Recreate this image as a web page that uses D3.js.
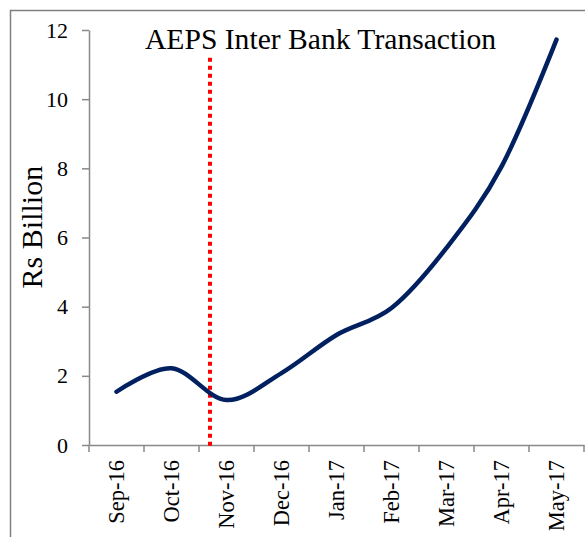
<!DOCTYPE html>
<html>
<head>
<meta charset="utf-8">
<script src="https://cdn.jsdelivr.net/npm/d3@7"></script>
<style>
  body { margin: 0; background: #fff; }
  text { font-family: "Liberation Serif", "DejaVu Serif", serif; fill: #000; }
</style>
</head>
<body>
<svg id="chart"></svg>
<script>
// Data
const months = ["Sep-16", "Oct-16", "Nov-16", "Dec-16", "Jan-17", "Feb-17", "Mar-17", "Apr-17", "May-17"];
const values = [1.54, 2.22, 1.30, 2.08, 3.18, 3.96, 5.70, 8.05, 11.72];
const yTicks = [0, 2, 4, 6, 8, 10, 12];
const markerIndex = 2.2;   // demonetisation marker, in band units from the axis start (between Oct-16 and Nov-16)
const markerTop = 11.2;
const title = "AEPS Inter Bank Transaction";
const yLabel = "Rs Billion";

let width = 585;
let height = 537;
let margin = { top: 30, bottom: 92, left: 89, right: 1 };

let svg = d3.select('#chart')
    .attr('width', width)
    .attr('height', height);

// outer frame (runs off the right and bottom edge)
svg.append('rect')
    .attr('x', 10.5)
    .attr('y', 10.5)
    .attr('width', width + 20)
    .attr('height', height + 20)
    .attr('fill', 'none')
    .attr('stroke', '#7f7f7f')
    .attr('stroke-width', 1.5);

let xScale = d3.scaleBand()
    .domain(months)
    .range([margin.left, width - margin.right]);

let yScale = d3.scaleLinear()
    .domain([0, 12])
    .range([height - margin.bottom, margin.top]);

// y axis
let yAxis = svg.append('g')
    .attr('transform', `translate(${margin.left}, 0)`)
    .call(d3.axisLeft(yScale).tickValues(yTicks).tickSize(7).tickPadding(14).tickSizeOuter(0));

yAxis.select('.domain').attr('stroke', '#898989').attr('stroke-width', 1.5);
yAxis.selectAll('.tick line').attr('stroke', '#898989').attr('stroke-width', 1.5);
yAxis.selectAll('text')
    .style('font-size', '22px')
    .style('font-family', '"Liberation Serif", serif');

// x axis: labels at band centres, ticks at band edges
let xAxis = svg.append('g')
    .attr('transform', `translate(0, ${height - margin.bottom})`)
    .call(d3.axisBottom(xScale).tickSize(0).tickSizeOuter(0));

xAxis.select('.domain').attr('stroke', '#898989').attr('stroke-width', 1.5);
xAxis.selectAll('text')
    .style('font-size', '22.5px')
    .style('font-family', '"Liberation Serif", serif')
    .style('text-anchor', 'end')
    .attr('x', -15)
    .attr('y', 0)
    .attr('dy', '0.33em')
    .attr('transform', 'rotate(-90)');

let edges = months.map(d => xScale(d)).concat([xScale(months[months.length - 1]) + xScale.bandwidth()]);
xAxis.selectAll('.edge')
    .data(edges)
    .enter()
    .append('line')
    .attr('class', 'edge')
    .attr('x1', d => d)
    .attr('x2', d => d)
    .attr('y1', 0)
    .attr('y2', 7)
    .attr('stroke', '#898989')
    .attr('stroke-width', 1.5);

// y axis title
svg.append('text')
    .attr('transform', `translate(42, ${yScale(6.3)}) rotate(-90)`)
    .style('text-anchor', 'middle')
    .style('font-size', '30px')
    .text(yLabel);

// chart title
svg.append('text')
    .attr('x', 145)
    .attr('y', 49)
    .style('font-size', '29.6px')
    .text(title);

// red dotted marker
let xIndex = d3.scaleLinear()
    .domain([0, months.length])
    .range(xScale.range());

svg.append('line')
    .attr('x1', xIndex(markerIndex))
    .attr('x2', xIndex(markerIndex))
    .attr('y1', yScale(markerTop))
    .attr('y2', yScale(0) + 3)
    .attr('stroke', '#ff0000')
    .attr('stroke-width', 4)
    .attr('stroke-dasharray', '4,4');

// smoothed line
let line = d3.line()
    .x((d, i) => xScale(months[i]) + xScale.bandwidth() / 2)
    .y(d => yScale(d))
    .curve(d3.curveCatmullRom.alpha(0));

svg.append('path')
    .datum(values)
    .attr('d', line)
    .attr('fill', 'none')
    .attr('stroke', '#002060')
    .attr('stroke-width', 4.5)
    .attr('stroke-linecap', 'round');
</script>
</body>
</html>
